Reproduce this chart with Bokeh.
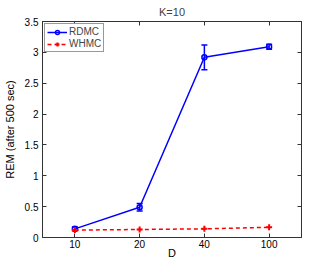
from bokeh.plotting import figure
from bokeh.models import (ColumnDataSource, FactorRange, Range1d, Whisker, Legend, LegendItem,
                          LinearAxis, CategoricalAxis, FixedTicker)
from bokeh.embed import file_html
from bokeh.resources import INLINE

D = ["10", "20", "40", "100"]
rdmc = [0.14, 0.49, 2.92, 3.09]
rdmc_err = [0.03, 0.06, 0.20, 0.04]
whmc = [0.12, 0.13, 0.14, 0.165]
yticks = [0, 0.5, 1, 1.5, 2, 2.5, 3, 3.5]

FONT = "Liberation Sans"

p = figure(width=316, height=261, x_range=FactorRange(*D, range_padding=0),
           y_range=Range1d(0, 3.5), output_backend="svg", toolbar_location=None,
           min_border_left=36, min_border_right=15, min_border_top=4, min_border_bottom=0)
p.title.text = "K=10"
p.title.align = "center"
p.title.text_font = FONT
p.title.text_font_style = "normal"
p.title.text_font_size = "11px"
p.title.standoff = 7
p.title.offset = 0
p.xgrid.visible = False
p.ygrid.visible = False
p.outline_line_color = "#333333"

src_r = ColumnDataSource(dict(x=D, y=rdmc,
                              lo=[v - e for v, e in zip(rdmc, rdmc_err)],
                              hi=[v + e for v, e in zip(rdmc, rdmc_err)]))
src_w = ColumnDataSource(dict(x=D, y=whmc))

lr = p.line("x", "y", source=src_r, line_color="#0000ff", line_width=1.5)
cr = p.scatter("x", "y", source=src_r, marker="circle", size=5, line_color="#0000ff",
               fill_color="white", fill_alpha=0.0, line_width=1.5)
w = Whisker(base="x", upper="hi", lower="lo", source=src_r, line_color="#0000ff", line_width=1.5)
w.upper_head.line_color = "#0000ff"
w.lower_head.line_color = "#0000ff"
w.upper_head.size = 6
w.lower_head.size = 6
w.upper_head.line_width = 1.5
w.lower_head.line_width = 1.5
p.add_layout(w)

lw = p.line("x", "y", source=src_w, line_color="#ff0000", line_width=1.5, line_dash="4 3")
cw = p.scatter("x", "y", source=src_w, marker="cross", size=6, line_color="#ff0000", line_width=2)

for ax in (p.xaxis[0], p.yaxis[0]):
    ax.major_tick_in = 4
    ax.major_tick_out = 0
    ax.minor_tick_in = 0
    ax.minor_tick_out = 0
    ax.axis_line_color = "#333333"
    ax.major_tick_line_color = "#333333"
    ax.major_label_text_font = FONT
    ax.major_label_text_font_size = "10px"
    ax.major_label_text_color = "black"
    ax.axis_label_text_font = FONT
    ax.axis_label_text_font_size = "11px"
    ax.axis_label_text_font_style = "normal"
    ax.axis_label_text_color = "black"

p.yaxis[0].ticker = FixedTicker(ticks=yticks)
p.yaxis[0].major_label_overrides = {t: ("%g" % t) for t in yticks}
p.yaxis[0].axis_label = "REM (after 500 sec)"
p.yaxis[0].axis_label_standoff = 6
p.yaxis[0].major_label_standoff = 4
p.xaxis[0].axis_label = "D"
p.xaxis[0].axis_label_standoff = -4
p.xaxis[0].major_label_standoff = 2

ra = LinearAxis(ticker=FixedTicker(ticks=yticks), major_tick_in=4, major_tick_out=0,
                minor_tick_in=0, minor_tick_out=0, major_label_text_color=None,
                major_label_text_font_size="1px",
                axis_line_color="#333333", major_tick_line_color="#333333", major_label_standoff=0)
p.add_layout(ra, "right")
ta = CategoricalAxis(major_tick_in=4, major_tick_out=0, major_label_text_color=None,
                     major_label_text_font_size="1px",
                     axis_line_color="#333333", major_tick_line_color="#333333", major_label_standoff=0)
p.add_layout(ta, "above")

legend = Legend(items=[LegendItem(label="RDMC", renderers=[lr, cr]),
                       LegendItem(label="WHMC", renderers=[lw, cw])],
                location="top_left", label_text_font=FONT, label_text_font_size="10px",
                glyph_width=20, glyph_height=10, label_height=10, spacing=1, padding=2,
                margin=2, border_line_color="#333333", label_standoff=2,
                background_fill_alpha=1.0)
p.add_layout(legend)

open("out.html", "w").write(file_html(p, INLINE))
